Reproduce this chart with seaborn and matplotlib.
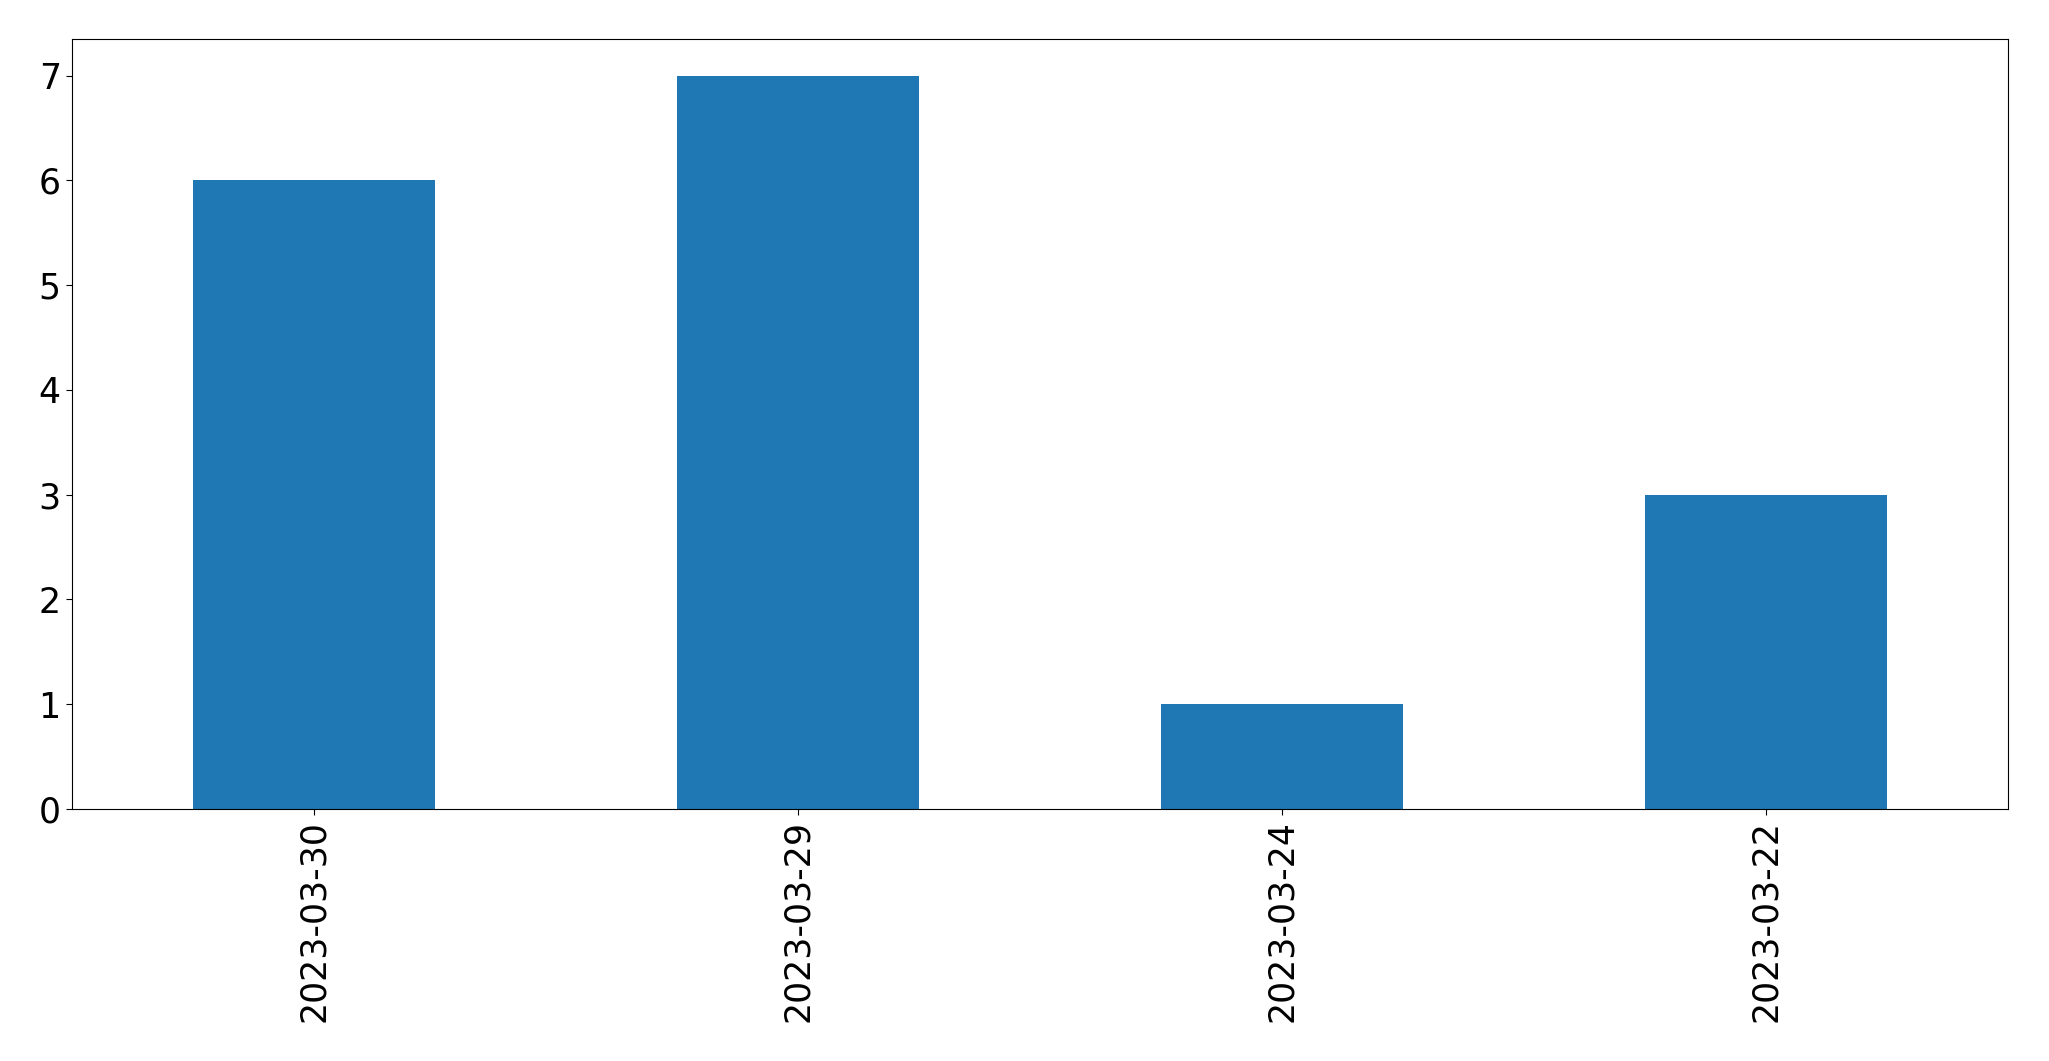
import matplotlib
matplotlib.use("Agg")
import matplotlib.pyplot as plt
import seaborn as sns
import pandas as pd

sns.set_style("white")
plt.rcParams['font.family'] = ['DejaVu Sans']
plt.rcParams['text.color'] = 'black'
plt.rcParams['xtick.color'] = 'black'
plt.rcParams['ytick.color'] = 'black'

dates = ['2023-03-30', '2023-03-29', '2023-03-24', '2023-03-22']
counts = [6, 7, 1, 3]

df = pd.DataFrame({'date': dates, 'count': counts})

fig = plt.figure(figsize=(20.49, 10.61), dpi=100)
ax = fig.add_axes([0.0351, 0.2375, 0.9449, 0.7257])
sns.barplot(data=df, x='date', y='count', color='#1f77b4', saturation=1,
            width=0.5, linewidth=0, ax=ax)

ax.set_ylim(0, 7.35)
ax.set_xlim(-0.5, 3.5)
ax.set_xlabel('')
ax.set_ylabel('')
ax.tick_params(axis='both', labelsize=25, length=4.5, width=0.8,
               direction='out', bottom=True, left=True,
               color='black', labelcolor='black')
ax.tick_params(axis='x', labelrotation=90)
for s in ax.spines.values():
    s.set_visible(True)
    s.set_color('black')
    s.set_linewidth(0.8)

fig.savefig('out.png', dpi=100)
